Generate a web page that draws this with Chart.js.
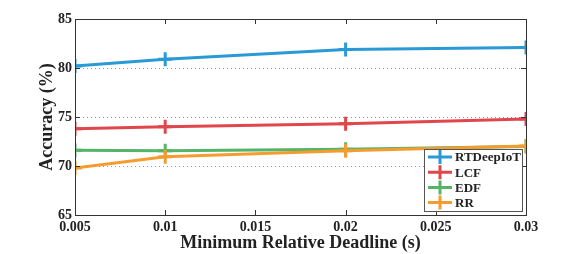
<!DOCTYPE html>
<html><head><meta charset="utf-8">
<script src="https://cdn.jsdelivr.net/npm/chart.js@4/dist/chart.umd.min.js"></script>
<style>html,body{margin:0;padding:0;background:#fff}#c{display:block}</style>
</head><body>
<canvas id="c" width="581" height="254"></canvas>
<script>
const deadlines = [0.005, 0.01, 0.02, 0.03];
const seriesNames = ['RTDeepIoT', 'LCF', 'EDF', 'RR'];
const rtdeepiot = [80.2, 80.9, 81.9, 82.1];
const lcf = [73.8, 74.0, 74.3, 74.8];
const edf = [71.6, 71.55, 71.7, 72.0];
const rr = [69.8, 70.95, 71.55, 72.05];
const xTicks = [0.005, 0.01, 0.015, 0.02, 0.025, 0.03];
const yTicks = [65, 70, 75, 80, 85];
const yTitle = 'Accuracy (%)';
const xTitle = 'Minimum Relative Deadline (s)';
const colors = ['#2a9ad6', '#e0474c', '#55b468', '#f59c2f'];

const FONT = '"Liberation Serif", "Times New Roman", serif';
const allSeries = [rtdeepiot, lcf, edf, rr];

const datasets = allSeries.map((s, i) => ({
  label: seriesNames[i],
  data: s.map((v, j) => ({x: deadlines[j], y: v})),
  borderColor: colors[i],
  backgroundColor: colors[i],
  borderWidth: 3,
  pointStyle: 'cross',
  pointRadius: 7,
  pointBorderWidth: 3,
  pointHoverRadius: 7,
  tension: 0,
  fill: false
})).reverse();

const gridPlugin = {
  id: 'dotgrid',
  beforeDatasetsDraw(chart) {
    const ctx = chart.ctx, a = chart.chartArea, ys = chart.scales.y;
    ctx.save();
    ctx.strokeStyle = '#999';
    ctx.lineWidth = 1;
    ctx.setLineDash([1, 3]);
    ctx.beginPath();
    yTicks.slice(1, -1).forEach(t => {
      const py = Math.round(ys.getPixelForValue(t)) + 0.5;
      ctx.moveTo(a.left, py); ctx.lineTo(a.right, py);
    });
    ctx.stroke();
    ctx.restore();
  }
};

const boxPlugin = {
  id: 'box',
  afterDraw(chart) {
    const ctx = chart.ctx, a = chart.chartArea;
    const xs = chart.scales.x, ys = chart.scales.y;
    ctx.save();
    ctx.strokeStyle = '#333';
    ctx.lineWidth = 1;
    ctx.strokeRect(Math.round(a.left)+0.5, Math.round(a.top)+0.5, Math.round(a.right-a.left), Math.round(a.bottom-a.top));
    ctx.beginPath();
    xTicks.forEach(t => {
      const px = Math.round(xs.getPixelForValue(t)) + 0.5;
      ctx.moveTo(px, a.bottom); ctx.lineTo(px, a.bottom - 5);
      ctx.moveTo(px, a.top); ctx.lineTo(px, a.top + 5);
    });
    yTicks.forEach(t => {
      const py = Math.round(ys.getPixelForValue(t)) + 0.5;
      ctx.moveTo(a.left, py); ctx.lineTo(a.left + 5, py);
      ctx.moveTo(a.right, py); ctx.lineTo(a.right - 5, py);
    });
    ctx.stroke();

    // y title
    ctx.save();
    ctx.translate(47, (a.top + a.bottom) / 2);
    ctx.rotate(-Math.PI / 2);
    ctx.fillStyle = '#222';
    ctx.font = 'bold 18px ' + FONT;
    ctx.textAlign = 'center';
    ctx.textBaseline = 'middle';
    ctx.fillText(yTitle, 0, 0);
    ctx.restore();

    // legend
    const lx = 424, ly = 149, lw = 98, lh = 62;
    ctx.fillStyle = '#fff';
    ctx.fillRect(lx, ly, lw, lh);
    ctx.strokeStyle = '#555';
    ctx.lineWidth = 1;
    ctx.strokeRect(lx + 0.5, ly + 0.5, lw, lh);
    seriesNames.forEach((name, i) => {
      const cy = ly + 8 + i * 15.2;
      ctx.strokeStyle = colors[i];
      ctx.lineWidth = 3;
      ctx.beginPath();
      ctx.moveTo(428, cy); ctx.lineTo(452, cy);
      ctx.moveTo(440, cy - 7); ctx.lineTo(440, cy + 7);
      ctx.stroke();
      ctx.fillStyle = '#222';
      ctx.font = 'bold 13px ' + FONT;
      ctx.textBaseline = 'middle';
      ctx.textAlign = 'left';
      ctx.fillText(name, 455, cy + 1);
    });
    ctx.restore();
  }
};

new Chart(document.getElementById('c'), {
  type: 'line',
  data: { datasets },
  plugins: [gridPlugin, boxPlugin],
  options: {
    responsive: false,
    animation: false,
    layout: { padding: { top: 19, right: 55, left: 0, bottom: 0 } },
    plugins: { legend: { display: false }, tooltip: { enabled: false } },
    scales: {
      x: {
        type: 'linear', min: 0.005, max: 0.03,
        afterBuildTicks(s) { s.ticks = xTicks.map(v => ({value: v})); },
        afterFit(s) { s.height = 39; },
        grid: { display: false },
        border: { display: false },
        ticks: {
          font: { family: FONT, size: 14, weight: 'bold' }, color: '#222', padding: -4,
          maxRotation: 0, autoSkip: false,
          callback: v => String(v)
        },
        title: { display: true, text: xTitle, font: { family: FONT, size: 18, weight: 'bold' }, color: '#222', padding: { top: 0, bottom: 0 } }
      },
      y: {
        min: 65, max: 85,
        afterBuildTicks(s) { s.ticks = yTicks.map(v => ({value: v})); },
        afterFit(s) { s.width = 75; },
        grid: { display: false, drawTicks: false },
        border: { display: false },
        ticks: { font: { family: FONT, size: 14, weight: 'bold' }, color: '#222', padding: 3 },
        title: { display: false }
      }
    }
  }
});
</script>
</body></html>
